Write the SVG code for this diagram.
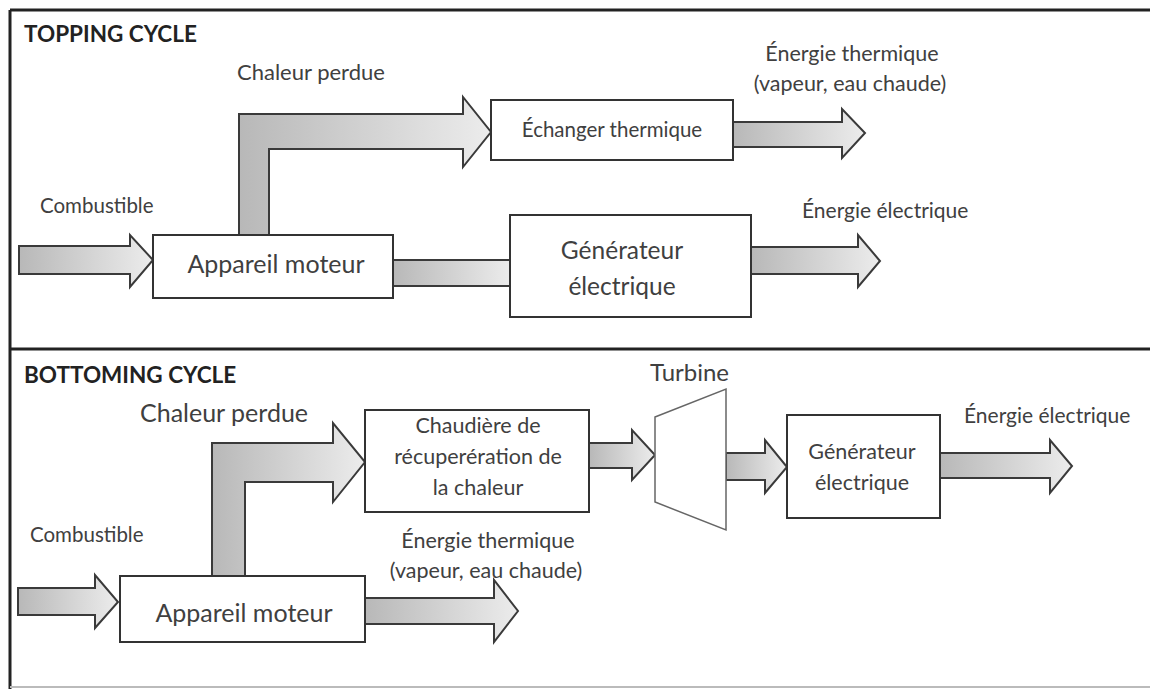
<svg xmlns="http://www.w3.org/2000/svg" width="1150" height="689" viewBox="0 0 1150 689">
<defs>
<linearGradient id="gh" x1="0" y1="0" x2="1" y2="0">
<stop offset="0" stop-color="#b8b8b8"/>
<stop offset="1" stop-color="#ececec"/>
</linearGradient>
<style>
.arr{fill:url(#gh);stroke:#3a3a3a;stroke-width:2;stroke-linejoin:miter}
.box{fill:#fff;stroke:#333;stroke-width:2}
.t{font-family:Lato,"Open Sans","Liberation Sans",sans-serif;fill:#404040}
.h{font-family:Lato,"Open Sans","Liberation Sans",sans-serif;font-weight:bold;fill:#222;font-size:22.5px}
.m{text-anchor:middle}
.frame{stroke:#222;stroke-width:3;fill:none}
</style>
</defs>
<rect width="1150" height="689" fill="#fff"/>
<g id="frame">
<line class="frame" x1="10" y1="10" x2="1150" y2="10"/>
<line class="frame" x1="10" y1="10" x2="10" y2="689"/>
<line class="frame" x1="10" y1="349" x2="1150" y2="349"/>
<line x1="10" y1="687" x2="1150" y2="687" stroke="#bbb" stroke-width="2"/>
</g>
<text class="h" x="24" y="42">TOPPING CYCLE</text>
<text class="h" x="24" y="383">BOTTOMING CYCLE</text>
<g id="connectors">
<polygon class="arr" points="19,246 130,246 130,235 153,260 130,287 130,274 19,274"/>
<path class="arr" d="M239,235 L239,114 L463,114 L463,97 L491,132 L463,167 L463,149 L269,149 L269,235 Z"/>
<polygon class="arr" points="393,260 511,260 511,286 393,286"/>
<polygon class="arr" points="733,122 842,122 842,109 865,133 842,158 842,147 733,147"/>
<polygon class="arr" points="751,247 858,247 858,235 880,261 858,287 858,274 751,274"/>
<path class="arr" d="M212,576 L212,443 L333,443 L333,423 L365,462 L333,502 L333,482 L245,482 L245,576 Z"/>
<polygon class="arr" points="589,443 632,443 632,430 655,455 632,480 632,468 589,468"/>
<polygon class="arr" points="726,453 765,453 765,440 787,467 765,493 765,480 726,480"/>
<polygon class="arr" points="940,453 1050,453 1050,440 1072,466 1050,493 1050,478 940,478"/>
<polygon class="arr" points="18,588 95,588 95,575 118,602 95,628 95,615 18,615"/>
<polygon class="arr" points="365,598 494,598 494,580 518,611 494,642 494,624 365,624"/>
</g>
<g id="top-appareil">
<rect class="box" x="153" y="235" width="240" height="63"/>
<text class="t m" x="276" y="273" font-size="25">Appareil moteur</text>
</g>
<g id="top-echangeur">
<rect class="box" x="491" y="100" width="242" height="60"/>
<text class="t m" x="612" y="137" font-size="20.5">Échanger thermique</text>
</g>
<g id="top-generateur">
<rect class="box" x="510" y="215" width="241" height="102"/>
<text class="t m" x="622" y="259" font-size="24.5">Générateur</text>
<text class="t m" x="622" y="295" font-size="24.5">électrique</text>
</g>
<g id="top-labels">
<text class="t" x="237" y="80" font-size="22">Chaleur perdue</text>
<text class="t" x="40" y="213" font-size="20.5">Combustible</text>
<text class="t m" x="852" y="61" font-size="21.5">Énergie thermique</text>
<text class="t m" x="850" y="91" font-size="21.5">(vapeur, eau chaude)</text>
<text class="t" x="802" y="218" font-size="21">Énergie électrique</text>
</g>
<g id="bot-appareil">
<rect class="box" x="120" y="576" width="245" height="66"/>
<text class="t m" x="244" y="622" font-size="25">Appareil moteur</text>
</g>
<g id="bot-chaudiere">
<rect class="box" x="365" y="410" width="224" height="102"/>
<text class="t m" x="478" y="433" font-size="21.5">Chaudière de</text>
<text class="t m" x="478" y="464" font-size="21.5">récuperération de</text>
<text class="t m" x="478" y="495" font-size="21.5">la chaleur</text>
</g>
<g id="bot-turbine">
<polygon points="655,417 726,389 726,530 655,502" fill="#fff" stroke="#666" stroke-width="1.5"/>
<text class="t" x="650" y="381" font-size="24">Turbine</text>
</g>
<g id="bot-generateur">
<rect class="box" x="787" y="415" width="153" height="103"/>
<text class="t m" x="862" y="459" font-size="21.5">Générateur</text>
<text class="t m" x="862" y="490" font-size="21.5">électrique</text>
</g>
<g id="bot-labels">
<text class="t" x="140" y="422" font-size="25">Chaleur perdue</text>
<text class="t" x="30" y="542" font-size="20.5">Combustible</text>
<text class="t m" x="488" y="548" font-size="21.5">Énergie thermique</text>
<text class="t m" x="486" y="578" font-size="21.5">(vapeur, eau chaude)</text>
<text class="t" x="964" y="423" font-size="21">Énergie électrique</text>
</g>
</svg>
